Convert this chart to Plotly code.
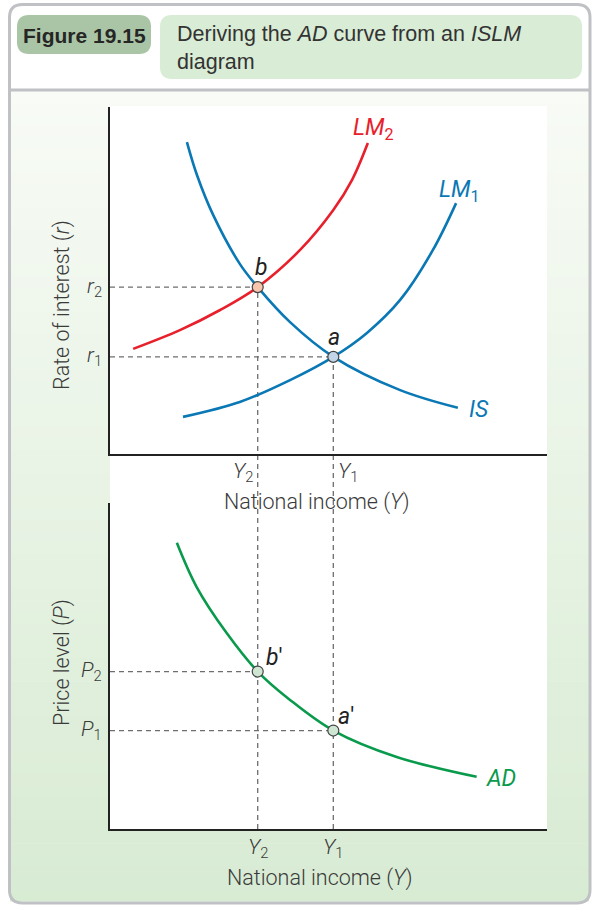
import plotly.graph_objects as go

W, H = 594, 905

# ---------------- data (abstract units, 0-100) ----------------
Y2, Y1 = 33.8, 51.1          # national income levels
r2, r1 = 48.1, 28.0          # interest rates
P2, P1 = 48.3, 30.2          # price levels

is_x = [17.6, 19.9, 23.6, 29.7, 33.8, 41.2, 51.1, 66.4, 79.6]
is_y = [89.9, 80.4, 68.9, 54.8, 48.1, 38.0, 28.0, 18.4, 13.3]
lm1_x = [16.7, 29.7, 41.2, 51.1, 58.8, 66.4, 73.9, 79.2]
lm1_y = [10.7, 15.0, 21.3, 28.0, 34.9, 44.4, 58.8, 72.3]
lm2_x = [5.3, 16.0, 25.2, 33.8, 43.5, 51.1, 55.4, 59.0]
lm2_y = [30.3, 35.7, 41.5, 48.1, 58.8, 70.3, 79.0, 89.6]
ad_x = [15.3, 19.8, 26.7, 33.8, 41.2, 51.1, 65.6, 83.9]
ad_y = [87.8, 74.3, 60.1, 48.3, 39.6, 30.2, 22.1, 16.0]

# ---------------- styles ----------------
BLUE = "#0a78b5"
RED = "#e8202b"
GREEN = "#0a9a4c"
DASH = "#6e6e6e"
AXIS = "#222222"
TXT = "#3a3a3a"
FONT = "Roboto, Liberation Sans, Arial, sans-serif"
HFONT = "Liberation Sans, Arial, sans-serif"


def px(x):
    return x / W


def py(y):
    return 1 - y / H


X_DOM = [px(110), px(547)]
TOP_DOM = [py(454), py(107)]
BOT_DOM = [py(829), py(503)]


def rrect(x0, y0, x1, y1, r):
    pts = [
        ("M", [(x0 + r, y0)]), ("L", [(x1 - r, y0)]), ("Q", [(x1, y0), (x1, y0 + r)]),
        ("L", [(x1, y1 - r)]), ("Q", [(x1, y1), (x1 - r, y1)]), ("L", [(x0 + r, y1)]),
        ("Q", [(x0, y1), (x0, y1 - r)]), ("L", [(x0, y0 + r)]), ("Q", [(x0, y0), (x0 + r, y0)]),
    ]
    s = ""
    for cmd, ps in pts:
        s += cmd + " " + " ".join(f"{px(a):.5f},{py(b):.5f}" for a, b in ps) + " "
    return s + "Z"


def lerp_col(c0, c1, t):
    a = [int(c0[i:i + 2], 16) for i in (1, 3, 5)]
    b = [int(c1[i:i + 2], 16) for i in (1, 3, 5)]
    return "#" + "".join(f"{round(a[k] + (b[k] - a[k]) * t):02x}" for k in range(3))


shapes = []
# body gradient
N = 70
top_y, bot_y = 91, 901
for i in range(N):
    y0 = top_y + (bot_y - top_y) * i / N
    y1 = top_y + (bot_y - top_y) * (i + 1) / N + 0.6
    shapes.append(dict(type="rect", xref="paper", yref="paper", layer="below",
                       x0=px(10), x1=px(589), y0=py(y1), y1=py(y0),
                       fillcolor=lerp_col("#f8fbf6", "#d8ebd3", i / (N - 1)), line=dict(width=0)))
# outer border
shapes.append(dict(type="path", xref="paper", yref="paper", layer="below",
                   path=rrect(9.5, 4.5, 590, 903, 13), line=dict(color="#c0c1c5", width=3)))
# header separator
shapes.append(dict(type="line", xref="paper", yref="paper", layer="below",
                   x0=px(10), x1=px(589), y0=py(90), y1=py(90), line=dict(color="#c0c1c5", width=3)))
# header pill and title box
shapes.append(dict(type="path", xref="paper", yref="paper", layer="below",
                   path=rrect(17, 15, 151, 54, 12), fillcolor="#a9c5a5", line=dict(width=0)))
shapes.append(dict(type="path", xref="paper", yref="paper", layer="below",
                   path=rrect(160, 15, 582, 79, 12), fillcolor="#d9ecd5", line=dict(width=0)))
# white plotting panel
shapes.append(dict(type="rect", xref="paper", yref="paper", layer="below",
                   x0=px(110), x1=px(547), y0=py(829), y1=py(106),
                   fillcolor="white", line=dict(width=0)))

dash_line = dict(color=DASH, width=1.3, dash="5px,4px")
# vertical guides spanning both panels
for xv, yv in [(Y2, r2), (Y1, r1)]:
    ytop = TOP_DOM[0] + yv / 100 * (TOP_DOM[1] - TOP_DOM[0])
    shapes.append(dict(type="line", xref="x", yref="paper", layer="below",
                       x0=xv, x1=xv, y0=BOT_DOM[0], y1=ytop, line=dash_line))
# horizontal guides
for xv, yv, ax in [(Y2, r2, "y"), (Y1, r1, "y"), (Y2, P2, "y2"), (Y1, P1, "y2")]:
    shapes.append(dict(type="line", xref="x" if ax == "y" else "x2", yref=ax, layer="below",
                       x0=0, x1=xv, y0=yv, y1=yv, line=dash_line))

fig = go.Figure()
lw = 2.6
fig.add_trace(go.Scatter(x=is_x, y=is_y, mode="lines", line=dict(color=BLUE, width=lw, shape="spline"),
                         xaxis="x", yaxis="y", hoverinfo="skip"))
fig.add_trace(go.Scatter(x=lm1_x, y=lm1_y, mode="lines", line=dict(color=BLUE, width=lw, shape="spline"),
                         xaxis="x", yaxis="y", hoverinfo="skip"))
fig.add_trace(go.Scatter(x=lm2_x, y=lm2_y, mode="lines", line=dict(color=RED, width=lw, shape="spline"),
                         xaxis="x", yaxis="y", hoverinfo="skip"))
fig.add_trace(go.Scatter(x=ad_x, y=ad_y, mode="lines", line=dict(color=GREEN, width=lw, shape="spline"),
                         xaxis="x2", yaxis="y2", hoverinfo="skip"))
# points
fig.add_trace(go.Scatter(x=[Y2], y=[r2], mode="markers", xaxis="x", yaxis="y",
                         marker=dict(size=11, color="#f7c6ad", line=dict(color="#444", width=1.2))))
fig.add_trace(go.Scatter(x=[Y1], y=[r1], mode="markers", xaxis="x", yaxis="y",
                         marker=dict(size=11, color="#c3d5e8", line=dict(color="#444", width=1.2))))
fig.add_trace(go.Scatter(x=[Y2, Y1], y=[P2, P1], mode="markers", xaxis="x2", yaxis="y2",
                         marker=dict(size=11, color="#cfe6d3", line=dict(color="#444", width=1.2))))

ann = []


def A(text, x, y, xref="paper", yref="paper", size=20.5, color=TXT, weight=300, **kw):
    d = dict(text=text, x=x, y=y, xref=xref, yref=yref, showarrow=False,
             xanchor="center", yanchor="middle",
             font=dict(family=kw.pop("family", FONT), size=size, color=color, weight=weight))
    d.update(kw)
    ann.append(d)


# header text
A("<b>Figure 19.15</b>", px(84), py(35), family=HFONT, size=21, color="#262626", weight=400)
A("Deriving the <i>AD</i> curve from an <i>ISLM</i><br>diagram", px(175), py(48), family=HFONT,
  size=21.5, color="#333333", xanchor="left", align="left", weight=400)

# axis titles
A("Rate of interest (<i>r</i>)", px(62), py(305), size=21.5, textangle=-90)
A("Price level (<i>P</i>)", px(62), py(663), size=21.5, textangle=-90)
A("National income (<i>Y</i>)", px(317), py(502), size=21.5)
A("National income (<i>Y</i>)", px(320), py(878), size=21.5)

# y tick labels
A("<i>r</i><sub>2</sub>", px(104), r2, yref="y", xanchor="right", size=21)
A("<i>r</i><sub>1</sub>", px(104), r1, yref="y", xanchor="right", size=21)
A("<i>P</i><sub>2</sub>", px(104), P2, yref="y2", xanchor="right", size=21)
A("<i>P</i><sub>1</sub>", px(104), P1, yref="y2", xanchor="right", size=21)

# x tick labels
A("<i>Y</i><sub>2</sub>", Y2, py(472), xref="x", xanchor="right", xshift=-3, size=21)
A("<i>Y</i><sub>1</sub>", Y1, py(472), xref="x", xanchor="left", xshift=3, size=21)
A("<i>Y</i><sub>2</sub>", Y2, py(848), xref="x2", size=21)
A("<i>Y</i><sub>1</sub>", Y1, py(848), xref="x2", size=21)

# curve labels
A("<i>LM</i><sub>2</sub>", px(373), py(129), size=23, color=RED, weight=400)
A("<i>LM</i><sub>1</sub>", px(459), py(191), size=23, color=BLUE, weight=400)
A("<i>IS</i>", px(479), py(410), size=23, color=BLUE, weight=400)
A("<i>AD</i>", px(501), py(778), size=23, color=GREEN, weight=400)

# point labels
A("<i>b</i>", px(261), py(267), size=23, color="#222", weight=400)
A("<i>a</i>", px(334), py(337), size=23, color="#222", weight=400)
A("<i>b</i>′", px(274), py(657), size=23, color="#222", weight=400)
A("<i>a</i>′", px(346), py(716), size=23, color="#222", weight=400)

axis_common = dict(range=[0, 100], showgrid=False, zeroline=False, showticklabels=False, ticks="",
                   showline=True, linecolor=AXIS, linewidth=1.6, fixedrange=True)

fig.update_layout(
    width=W, height=H, margin=dict(l=0, r=0, t=0, b=0),
    paper_bgcolor="white", plot_bgcolor="rgba(0,0,0,0)", showlegend=False,
    xaxis=dict(domain=X_DOM, anchor="y", **axis_common),
    yaxis=dict(domain=TOP_DOM, anchor="x", **axis_common),
    xaxis2=dict(domain=X_DOM, anchor="y2", **axis_common),
    yaxis2=dict(domain=BOT_DOM, anchor="x2", **axis_common),
    shapes=shapes, annotations=ann,
)

fig.write_html("out.html", config={"displayModeBar": False},
               post_script="document.body.style.margin='0';document.body.style.overflow='hidden';")
